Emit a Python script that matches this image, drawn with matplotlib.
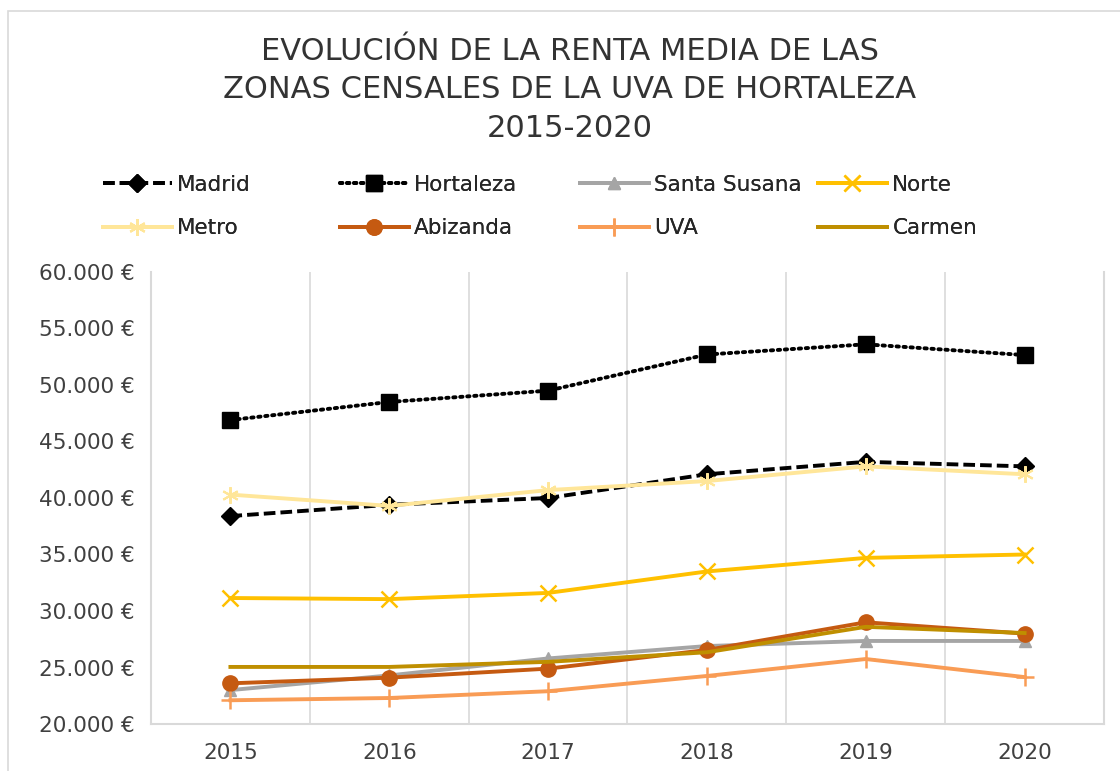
import matplotlib
matplotlib.use("Agg")
import matplotlib.pyplot as plt
from matplotlib.patches import Rectangle
from matplotlib.ticker import FuncFormatter, FixedLocator

plt.rcParams['font.family'] = ['DejaVu Sans']

years = ["2015", "2016", "2017", "2018", "2019", "2020"]
madrid = [38400, 39400, 40000, 42100, 43200, 42800]
hortaleza = [46900, 48500, 49500, 52700, 53600, 52650]
santa_susana = [23000, 24300, 25800, 26900, 27350, 27350]
norte = [31150, 31050, 31600, 33500, 34700, 35000]
metro = [40300, 39300, 40700, 41500, 42800, 42100]
abizanda = [23600, 24100, 24900, 26550, 29000, 28000]
uva = [22100, 22300, 22900, 24250, 25750, 24150]
carmen = [25050, 25050, 25500, 26350, 28600, 28050]

title = "EVOLUCIÓN DE LA RENTA MEDIA DE LAS\nZONAS CENSALES DE LA UVA DE HORTALEZA\n2015-2020"

fig = plt.figure(figsize=(11.2, 7.71), dpi=100)
fig.patches.append(Rectangle((8/1120, -0.05), 1.2, 1 - 11/771 + 0.05, transform=fig.transFigure,
                             fill=False, edgecolor="#D9D9D9", linewidth=1.2))
ax = fig.add_axes([151/1120, 1 - 724/771, (1104 - 151)/1120, (724 - 272)/771])

x = list(range(len(years)))
series = [
    ("Madrid", madrid, dict(color="black", linestyle=(0, (3, 1.3)), marker="D", markersize=9)),
    ("Hortaleza", hortaleza, dict(color="black", linestyle=(0, (0.6, 1.2)), dash_capstyle="round", marker="s", markersize=12)),
    ("Santa Susana", santa_susana, dict(color="#A5A5A5", linestyle="-", marker="^", markersize=9)),
    ("Norte", norte, dict(color="#FFC000", linestyle="-", marker="x", markersize=12, markeredgewidth=1.8)),
    ("Metro", metro, dict(color="#FFE699", linestyle="-", marker=(6, 2, 0), markersize=12, markeredgewidth=1.5)),
    ("Abizanda", abizanda, dict(color="#C55A11", linestyle="-", marker="o", markersize=11)),
    ("UVA", uva, dict(color="#F99C55", linestyle="-", marker="+", markersize=13, markeredgewidth=1.8)),
    ("Carmen", carmen, dict(color="#BF8F00", linestyle="-", marker=None)),
]

handles = {}
for name, vals, st in series:
    ln, = ax.plot(x, vals, linewidth=2.8, label=name, zorder=3, **st)
    handles[name] = ln

ax.set_xlim(-0.5, 5.5)
ax.set_ylim(20000, 60000)
ax.set_yticks(range(20000, 60001, 5000))
ax.yaxis.set_major_formatter(FuncFormatter(lambda v, p: f"{int(v):,} €".replace(",", ".")))
ax.set_xticks(x)
ax.set_xticklabels(years)
ax.xaxis.set_minor_locator(FixedLocator([0.5, 1.5, 2.5, 3.5, 4.5]))
ax.grid(True, which="minor", axis="x", color="#D9D9D9", linewidth=1.2)
ax.tick_params(axis="both", which="both", length=0)
ax.tick_params(axis="y", labelsize=15.5, labelcolor="#404040", pad=12)
ax.tick_params(axis="x", labelsize=15.5, labelcolor="#404040", pad=14)
for s in ["left", "bottom", "right"]:
    ax.spines[s].set_color("#D9D9D9")
    ax.spines[s].set_linewidth(1.5)
ax.spines["top"].set_visible(False)

fig.text(570/1120, 1 - 90/771, title, ha="center", va="center", fontsize=22,
         color="#333333", linespacing=1.4)

columns = [["Madrid", "Metro"], ["Hortaleza", "Abizanda"], ["Santa Susana", "UVA"], ["Norte", "Carmen"]]
col_x = [103, 340, 580, 818]
for names, cx in zip(columns, col_x):
    lg = fig.legend([handles[n] for n in names], names, loc="upper left",
                    bbox_to_anchor=(cx/1120, 1 - 175/771), frameon=False, fontsize=15.5,
                    handlelength=3.2, handletextpad=0.25, labelspacing=1.08,
                    borderpad=0, borderaxespad=0, labelcolor="#262626")
    fig.add_artist(lg)

fig.savefig("out.png", dpi=100)
